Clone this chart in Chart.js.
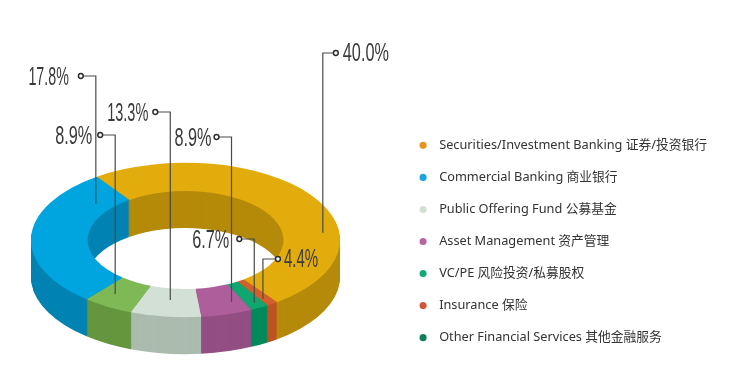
<!DOCTYPE html>
<html lang="en">
<head>
    <meta charset="UTF-8">
    <title>Financial Institutions Share</title>
    <style>
        body {
            margin: 0;
            background-color: #ffffff;
        }

        canvas {
            display: block;
        }
    </style>
</head>
<body>
<canvas id="ringChart" width="749" height="385"></canvas>

<script src="https://cdn.jsdelivr.net/npm/chart.js"></script>
<script>
    // Slices in clockwise order, starting from the gold one
    const sliceNames = ['Securities/Investment Banking', 'Insurance', 'VC/PE', 'Asset Management', 'Public Offering Fund', 'Other Financial Services', 'Commercial Banking'];
    // The printed percentages do not match the drawn slice sizes in the picture,
    // so sliceShares is what was measured off the ring and printedLabels is what it says
    const sliceShares = [49.6, 1.2, 1.9, 5.4, 7.4, 5.3, 29.2];
    const printedLabels = ['40.0%', '4.4%', '6.7%', '8.9%', '13.3%', '8.9%', '17.8%'];
    const topColors = ['#e3ac0d', '#d2602a', '#0fa76f', '#af5e9c', '#d3e0d5', '#7fb956', '#00a5e0'];
    const wallColors = ['#b58a0a', '#bd5421', '#008a5c', '#934f83', '#abbbae', '#64963f', '#0083b3'];

    const legendLabels = [
        'Securities/Investment Banking 证券/投资银行',
        'Commercial Banking 商业银行',
        'Public Offering Fund 公募基金',
        'Asset Management 资产管理',
        'VC/PE 风险投资/私募股权',
        'Insurance 保险',
        'Other Financial Services 其他金融服务'
    ];
    const legendColors = ['#e8931e', '#17a6e0', '#d3e0d5', '#b565a3', '#13a877', '#d2553a', '#0e7f5b'];

    // Ring placement on the page
    const ringX = 185.5;
    const ringY = 240;
    const tilt = 0.5;
    const depth = 37;

    // Leader lines, same order as the slices
    const leaders = [
        { along: 0.666, ring: 0.71, elbowY: 53, dotX: 13, textX: 20, align: 'left', squeeze: 0.65 },
        { along: 0.72, ring: 0.76, elbowY: 259, dotX: 15, textX: 21, align: 'left', squeeze: 0.6 },
        { along: 0.50, ring: 0.80, elbowY: 239, dotX: -15, textX: -25, align: 'right', squeeze: 0.65 },
        { along: 0.25, ring: 0.60, elbowY: 137, dotX: -15, textX: -20, align: 'right', squeeze: 0.65 },
        { along: 0.49, ring: 0.41, elbowY: 112, dotX: -15, textX: -22, align: 'right', squeeze: 0.58 },
        { along: 0.64, ring: 0.55, elbowY: 135, dotX: -15, textX: -23, align: 'right', squeeze: 0.65 },
        { along: 0.845, ring: 0.30, elbowY: 76, dotX: -15, textX: -27, align: 'right', squeeze: 0.57 }
    ];

    function applyTilt(ctx, arc, drop) {
        ctx.translate(ringX, ringY + drop);
        ctx.scale(1, tilt);
        ctx.translate(-arc.x, -arc.y);
    }

    // Draws the side walls as a stack of darker rings, then tilts the real slices on top
    const tiltPlugin = {
        id: 'tilt',
        beforeDatasetDraw(chart) {
            const ctx = chart.ctx;
            const arcs = chart.getDatasetMeta(0).data;
            for (let drop = depth; drop > 0; drop--) {
                ctx.save();
                applyTilt(ctx, arcs[0], drop);
                arcs.forEach((arc, i) => {
                    ctx.fillStyle = wallColors[i];
                    ctx.beginPath();
                    ctx.arc(arc.x, arc.y, arc.outerRadius, arc.startAngle, arc.endAngle);
                    ctx.arc(arc.x, arc.y, arc.innerRadius, arc.endAngle, arc.startAngle, true);
                    ctx.closePath();
                    ctx.fill();
                });
                ctx.restore();
            }
            ctx.save();
            applyTilt(ctx, arcs[0], 0);
        },
        afterDatasetDraw(chart) {
            chart.ctx.restore();
        },
        afterDatasetsDraw(chart) {
            const ctx = chart.ctx;
            chart.getDatasetMeta(0).data.forEach((arc, i) => {
                const lead = leaders[i];
                const angle = arc.startAngle + (arc.endAngle - arc.startAngle) * lead.along;
                const radius = arc.innerRadius + (arc.outerRadius - arc.innerRadius) * lead.ring;
                const x = ringX + Math.cos(angle) * radius;
                const y = ringY + Math.sin(angle) * radius * tilt;

                ctx.save();
                ctx.strokeStyle = '#4a4a4a';
                ctx.lineWidth = 1.2;
                ctx.beginPath();
                ctx.moveTo(x, y);
                ctx.lineTo(x, lead.elbowY);
                ctx.lineTo(x + lead.dotX, lead.elbowY);
                ctx.stroke();

                ctx.fillStyle = '#ffffff';
                ctx.strokeStyle = '#2e2e2e';
                ctx.lineWidth = 1.5;
                ctx.beginPath();
                ctx.arc(x + lead.dotX, lead.elbowY, 2.4, 0, Math.PI * 2);
                ctx.fill();
                ctx.stroke();

                // Squeeze the font to get the tall thin digits
                ctx.translate(x + lead.textX, lead.elbowY + (lead.align === 'left' ? 1 : 2));
                ctx.scale(lead.squeeze, 1);
                ctx.fillStyle = '#3a3a3a';
                ctx.font = '25px "Liberation Sans"';
                ctx.textAlign = lead.align;
                ctx.textBaseline = 'middle';
                ctx.fillText(printedLabels[i], 0, 0);
                ctx.restore();
            });
        }
    };

    new Chart(document.getElementById('ringChart').getContext('2d'), {
        type: 'doughnut',
        plugins: [tiltPlugin],
        data: {
            labels: sliceNames,
            datasets: [{
                data: sliceShares,
                backgroundColor: topColors,
                borderWidth: 0,
                clip: false
            }]
        },
        options: {
            responsive: false,
            animation: false,
            rotation: -35,
            radius: 154.5,
            cutout: '63.4%',
            layout: {
                padding: { top: 98, right: 32 }
            },
            plugins: {
                tooltip: { enabled: false },
                legend: {
                    position: 'right',
                    labels: {
                        usePointStyle: true,
                        boxHeight: 5,
                        padding: 19.3,
                        color: '#333333',
                        font: { family: '"Noto Sans", "Noto Sans CJK SC"', size: 12.75 },
                        generateLabels: () => legendLabels.map((text, i) => ({
                            text: ' ' + text,
                            fillStyle: legendColors[i],
                            strokeStyle: legendColors[i],
                            fontColor: '#333333',
                            lineWidth: 0,
                            pointStyle: 'circle',
                            hidden: false,
                            index: i
                        }))
                    }
                }
            }
        }
    });
</script>
</body>
</html>
